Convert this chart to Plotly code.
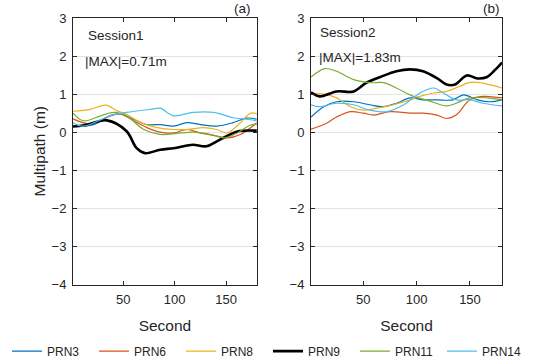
import plotly.graph_objects as go
from plotly.subplots import make_subplots

names = ["PRN3", "PRN6", "PRN8", "PRN9", "PRN11", "PRN14"]
colors = ["#0072BD", "#D95319", "#EDB120", "#000000", "#77AC30", "#4DBEEE"]
widths = [1.2, 1.2, 1.2, 2.6, 1.2, 1.2]

# Session 1 (panel a): (second, multipath) samples per PRN
s1_prn3_x = [1, 21, 37, 47, 60, 73, 86, 99, 112, 125, 141, 157, 170, 180]
s1_prn3_y = [0.15, 0.2, 0.43, 0.48, 0.34, 0.2, 0.2, 0.16, 0.25, 0.2, 0.16, 0.25, 0.37, 0.34]
s1_prn6_x = [1, 18, 37, 47, 60, 73, 86, 99, 112, 125, 141, 151, 164, 180]
s1_prn6_y = [0.35, 0.22, 0.43, 0.48, 0.3, 0.12, 0.0, -0.02, 0.07, -0.02, -0.1, -0.15, -0.06, 0.25]
s1_prn8_x = [1, 18, 33, 44, 53, 67, 83, 99, 112, 128, 141, 151, 164, 174, 180]
s1_prn8_y = [0.55, 0.6, 0.71, 0.56, 0.47, 0.25, 0.12, 0.07, 0.07, 0.12, 0.07, -0.02, 0.25, 0.5, 0.48]
s1_prn9_x = [1, 12, 34, 53, 63, 71, 86, 99, 112, 118, 131, 141, 151, 161, 180]
s1_prn9_y = [0.15, 0.18, 0.31, 0.03, -0.42, -0.55, -0.46, -0.42, -0.35, -0.33, -0.37, -0.24, -0.1, 0.02, 0.04]
s1_prn11_x = [1, 11, 28, 41, 53, 70, 86, 106, 118, 135, 148, 161, 174, 180]
s1_prn11_y = [0.5, 0.3, 0.43, 0.52, 0.43, 0.07, -0.06, -0.02, 0.0, -0.06, -0.15, -0.02, 0.19, 0.2]
s1_prn14_x = [1, 11, 37, 53, 80, 86, 99, 118, 138, 157, 170, 180]
s1_prn14_y = [0.25, 0.16, 0.43, 0.52, 0.61, 0.63, 0.43, 0.52, 0.52, 0.38, 0.34, 0.3]

# Session 2 (panel b)
s2_prn3_x = [1, 13, 25, 41, 56, 69, 81, 94, 106, 119, 134, 144, 157, 169, 180]
s2_prn3_y = [0.4, 0.67, 0.8, 0.8, 0.72, 0.67, 0.76, 0.9, 0.85, 0.85, 0.85, 0.98, 0.85, 0.8, 0.85]
s2_prn6_x = [1, 15, 25, 38, 50, 60, 75, 94, 106, 119, 128, 137, 150, 162, 180]
s2_prn6_y = [0.08, 0.23, 0.4, 0.54, 0.5, 0.45, 0.54, 0.5, 0.5, 0.45, 0.36, 0.45, 0.85, 0.94, 0.9]
s2_prn8_x = [1, 13, 25, 38, 50, 63, 78, 94, 103, 116, 128, 140, 150, 162, 180]
s2_prn8_y = [1.02, 1.0, 0.9, 0.67, 0.58, 0.63, 0.72, 0.85, 0.94, 1.03, 1.07, 1.2, 1.31, 1.29, 1.16]
s2_prn9_x = [1, 9, 25, 41, 53, 66, 81, 94, 106, 119, 128, 136, 147, 157, 166, 174, 180]
s2_prn9_y = [1.05, 0.94, 1.07, 1.07, 1.3, 1.45, 1.6, 1.65, 1.6, 1.42, 1.25, 1.25, 1.49, 1.41, 1.45, 1.65, 1.83]
s2_prn11_x = [1, 14, 25, 41, 56, 69, 81, 97, 109, 128, 137, 150, 166, 180]
s2_prn11_y = [1.45, 1.67, 1.6, 1.38, 1.3, 1.3, 1.16, 0.94, 0.85, 0.69, 0.76, 0.9, 0.9, 0.85]
s2_prn14_x = [1, 9, 25, 41, 56, 72, 88, 103, 116, 125, 137, 150, 162, 180]
s2_prn14_y = [0.72, 0.67, 0.76, 0.72, 0.58, 0.54, 0.72, 1.03, 1.16, 1.03, 0.85, 0.85, 0.76, 0.69]

session1 = [(s1_prn3_x, s1_prn3_y), (s1_prn6_x, s1_prn6_y), (s1_prn8_x, s1_prn8_y),
            (s1_prn9_x, s1_prn9_y), (s1_prn11_x, s1_prn11_y), (s1_prn14_x, s1_prn14_y)]
session2 = [(s2_prn3_x, s2_prn3_y), (s2_prn6_x, s2_prn6_y), (s2_prn8_x, s2_prn8_y),
            (s2_prn9_x, s2_prn9_y), (s2_prn11_x, s2_prn11_y), (s2_prn14_x, s2_prn14_y)]

x_ticks = [50, 100, 150]
y_ticks = [-4, -3, -2, -1, 0, 1, 2, 3]

FONT = "Liberation Sans, Arial, Helvetica, sans-serif"

fig = make_subplots(rows=1, cols=2)

for col, data in ((1, session1), (2, session2)):
    for i, (xs, ys) in enumerate(data):
        fig.add_trace(go.Scatter(
            x=xs, y=ys, mode="lines", name=names[i],
            line=dict(color=colors[i], width=widths[i], shape="spline", smoothing=1.0),
            showlegend=(col == 1), legendgroup=names[i]), row=1, col=col)

axis_common = dict(showline=True, linecolor="#262626", linewidth=1, mirror="ticks",
                   ticks="inside", ticklen=4, tickcolor="#262626", automargin=False,
                   ticklabelstandoff=3,
                   tickfont=dict(family=FONT, size=13, color="#262626"))

fig.update_xaxes(range=[1, 180], tickvals=x_ticks, showgrid=False, zeroline=False,
                 title=dict(text="Second", font=dict(family=FONT, size=15.5, color="#262626"), standoff=14),
                 **axis_common)
fig.update_yaxes(range=[-4, 3], tickvals=y_ticks, showgrid=True, gridcolor="#e3e3e3",
                 gridwidth=1, zeroline=False, **axis_common)

fig.update_layout(
    xaxis=dict(domain=[0.1327, 0.467]),
    xaxis2=dict(domain=[0.5655, 0.9127]),
    yaxis=dict(domain=[0.2075, 0.95],
               title=dict(text="Multipath (m)", font=dict(family=FONT, size=15.5, color="#262626"), standoff=2)),
    yaxis2=dict(domain=[0.2075, 0.95]),
)

annots = [
    dict(text="Session1", x=0.071, y=0.936, xref="x domain", yref="y domain", xanchor="left", yanchor="middle"),
    dict(text="|MAX|=0.71m", x=0.054, y=0.835, xref="x domain", yref="y domain", xanchor="left", yanchor="middle"),
    dict(text="(a)", x=0.98, y=1.0, xref="x domain", yref="y domain", xanchor="right", yanchor="bottom"),
    dict(text="Session2", x=0.037, y=0.944, xref="x2 domain", yref="y2 domain", xanchor="left", yanchor="middle"),
    dict(text="|MAX|=1.83m", x=0.031, y=0.85, xref="x2 domain", yref="y2 domain", xanchor="left", yanchor="middle"),
    dict(text="(b)", x=1.0, y=1.0, xref="x2 domain", yref="y2 domain", xanchor="right", yanchor="bottom"),
]
for a in annots:
    fig.add_annotation(showarrow=False, font=dict(family=FONT, size=13.5, color="#262626"), **a)

fig.update_layout(
    width=550, height=359,
    margin=dict(l=0, r=0, t=0, b=0, autoexpand=False),
    plot_bgcolor="white", paper_bgcolor="white",
    font=dict(family=FONT, size=13, color="#262626"),
    legend=dict(orientation="h", x=0.0127, xanchor="left", y=0.022, yanchor="middle",
                font=dict(family=FONT, size=12, color="#262626"),
                entrywidth=42, entrywidthmode="pixels", bgcolor="rgba(0,0,0,0)"),
)

fig.write_html("out.html", config={"displayModeBar": False},
               post_script="document.body.style.margin='0';document.body.style.overflow='hidden';")
